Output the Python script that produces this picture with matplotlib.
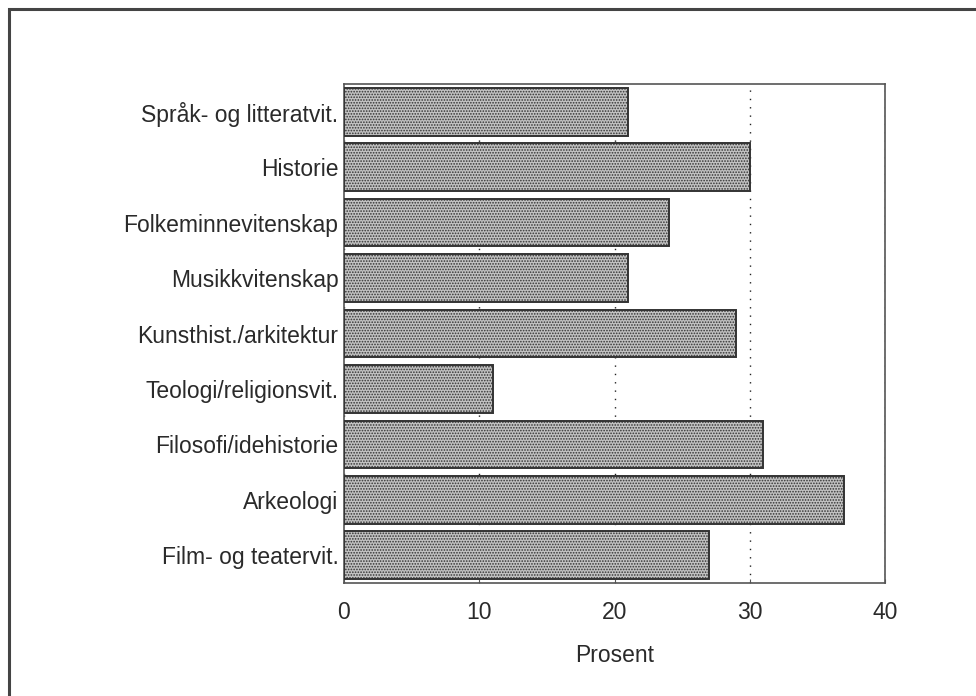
import matplotlib
matplotlib.use("Agg")
import matplotlib.pyplot as plt
from matplotlib.patches import Rectangle

# Data
fag = [
    "Språk- og litteratvit.",
    "Historie",
    "Folkeminnevitenskap",
    "Musikkvitenskap",
    "Kunsthist./arkitektur",
    "Teologi/religionsvit.",
    "Filosofi/idehistorie",
    "Arkeologi",
    "Film- og teatervit.",
]
prosent = [21, 30, 24, 21, 29, 11, 31, 37, 27]
xticks = [0, 10, 20, 30, 40]

plt.rcParams["font.family"] = ["Liberation Sans", "DejaVu Sans"]
plt.rcParams["hatch.color"] = "#9a9a9a"
plt.rcParams["hatch.linewidth"] = 0.8

fig = plt.figure(figsize=(9.76, 6.96), dpi=100)
ax = fig.add_axes([344 / 976, 1 - 583 / 696, 541 / 976, 499 / 696])

# ramme rundt hele figuren (kun venstre og topp synlig)
fig.patches.append(Rectangle((9 / 976, -0.05), 1.1, 1.05 - 9 / 696,
                             transform=fig.transFigure, fill=False,
                             edgecolor="#444444", linewidth=2.2))

y = list(range(len(fag)))
ax.barh(y, prosent, height=0.86, color="#c2c2c2", edgecolor="#333333",
        linewidth=1.4, hatch="......", zorder=3)

ax.set_ylim(len(fag) - 0.5, -0.5)
ax.set_xlim(0, 40)
ax.set_yticks(y)
ax.set_yticklabels(fag, fontsize=16.5, color="#2a2a2a")
ax.set_xticks(xticks)
ax.set_xticklabels([str(t) for t in xticks], fontsize=16.5, color="#2a2a2a")
ax.tick_params(axis="y", length=0, pad=4)
ax.tick_params(axis="x", length=3, direction="in", pad=13, color="#555555")
ax.set_xlabel("Prosent", fontsize=16.5, labelpad=14, color="#2a2a2a")

ax.grid(axis="x", linestyle=(0, (1, 5)), color="#222222", linewidth=1.0, zorder=0)
ax.set_axisbelow(True)
for s in ax.spines.values():
    s.set_color("#555555")
    s.set_linewidth(1.2)

fig.savefig("out.png", dpi=100, facecolor="white")
